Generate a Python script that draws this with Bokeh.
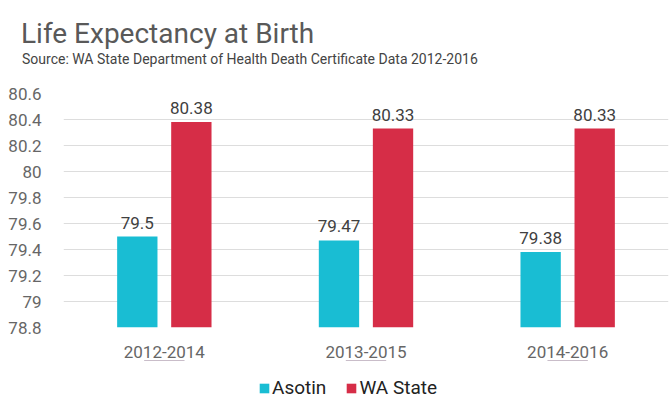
from bokeh.plotting import figure
from bokeh.layouts import column
from bokeh.models import (ColumnDataSource, FactorRange, Range1d, FixedTicker,
                          NumeralTickFormatter, Legend, LegendItem, Div)
from bokeh.core.properties import value
from bokeh.transform import dodge
from bokeh.embed import file_html
from bokeh.resources import INLINE

# ---- data ----
title_text = "Life Expectancy at Birth"
subtitle_text = "Source: WA State Department of Health Death Certificate Data 2012-2016"
periods = ["2012-2014", "2013-2015", "2014-2016"]
asotin = [79.5, 79.47, 79.38]
wa_state = [80.38, 80.33, 80.33]
series_names = ["Asotin", "WA State"]
y_ticks = [78.8, 79.0, 79.2, 79.4, 79.6, 79.8, 80.0, 80.2, 80.4, 80.6]

FONT = "Roboto"
C_ASOTIN = "#19BDD3"
C_WA = "#D62D47"

src = ColumnDataSource(dict(
    x=periods,
    asotin=asotin,
    wa=wa_state,
    asotin_lbl=[f"{v:g}" for v in asotin],
    wa_lbl=[f"{v:g}" for v in wa_state],
))

header = Div(
    text=(f'<div style="font-family:Roboto;font-size:28px;line-height:33px;color:#595959;'
          f'padding:17px 0 0 21px;margin:0;white-space:nowrap;">{title_text}</div>'
          f'<div style="font-family:Roboto;font-size:14px;line-height:18px;color:#444444;'
          f'padding:0 0 0 22px;margin:0;white-space:nowrap;">{subtitle_text}</div>'),
    width=669, height=70, margin=0)

p = figure(frame_width=605, frame_height=234, output_backend="svg", toolbar_location=None,
           x_range=FactorRange(*periods, range_padding=0),
           y_range=Range1d(y_ticks[0], y_ticks[-1]),
           min_border_left=63, min_border_right=1, min_border_top=23,
           min_border_bottom=0, margin=0)

p.title.visible = False

bw = 0.2
off = 0.134
p.vbar(x=dodge("x", -off, range=p.x_range), top="asotin", bottom=y_ticks[0],
       width=bw, source=src, fill_color=C_ASOTIN, line_color=None)
p.vbar(x=dodge("x", off, range=p.x_range), top="wa", bottom=y_ticks[0],
       width=bw, source=src, fill_color=C_WA, line_color=None)

p.text(x=dodge("x", -off, range=p.x_range), y="asotin", text="asotin_lbl", source=src,
       text_align="center", text_baseline="bottom", y_offset=-8,
       text_font=value(FONT), text_font_size="17px", text_color="#404040")
p.text(x=dodge("x", off, range=p.x_range), y="wa", text="wa_lbl", source=src,
       text_align="center", text_baseline="bottom", y_offset=-8,
       text_font=value(FONT), text_font_size="17px", text_color="#404040")

# axes
p.yaxis.ticker = FixedTicker(ticks=y_ticks)
p.yaxis.formatter = NumeralTickFormatter(format="0.[0]")
p.yaxis.axis_line_color = None
p.yaxis.major_tick_line_color = None
p.yaxis.minor_tick_line_color = None
p.yaxis.major_label_text_font = FONT
p.yaxis.major_label_text_font_size = "17px"
p.yaxis.major_label_text_color = "#666666"
p.yaxis.major_label_standoff = 16

p.xaxis.axis_line_color = None
p.xaxis.major_tick_line_color = None
p.xaxis.minor_tick_line_color = None
p.xaxis.major_tick_out = 0
p.xaxis.major_label_text_font = FONT
p.xaxis.major_label_text_font_size = "17px"
p.xaxis.major_label_text_color = "#666666"
p.xaxis.major_label_standoff = 18

p.xgrid.grid_line_color = None
p.ygrid.grid_line_color = "#DDDDDD"
p.ygrid.grid_line_width = 1
p.outline_line_color = None

# legend strip (separate small figure below the chart); its series renderers
# sit far outside its 0..1 y range, so only the legend swatches show
lg = figure(width=669, height=40, output_backend="svg", toolbar_location=None,
            x_axis_location=None, y_axis_location=None,
            x_range=FactorRange(*periods), y_range=Range1d(0, 1),
            min_border=0, margin=0)
lg.grid.grid_line_color = None
lg.outline_line_color = None
lg.title.visible = False
s1 = lg.vbar(x="x", top="asotin", bottom="asotin", width=bw, source=src,
             fill_color=C_ASOTIN, line_color=None)
s2 = lg.vbar(x="x", top="wa", bottom="wa", width=bw, source=src,
             fill_color=C_WA, line_color=None)

legend = Legend(items=[LegendItem(label=series_names[0], renderers=[s1]),
                       LegendItem(label=series_names[1], renderers=[s2])],
                orientation="horizontal", location=(195, 1),
                glyph_width=12, glyph_height=12, label_standoff=2, spacing=19,
                label_text_font=FONT, label_text_font_size="19px",
                label_text_color="#222222", border_line_color=None,
                background_fill_alpha=0, padding=0, margin=0)
lg.add_layout(legend, "center")

page = column(header, p, lg, spacing=0, margin=0)

open("out.html", "w").write(file_html(page, INLINE))
